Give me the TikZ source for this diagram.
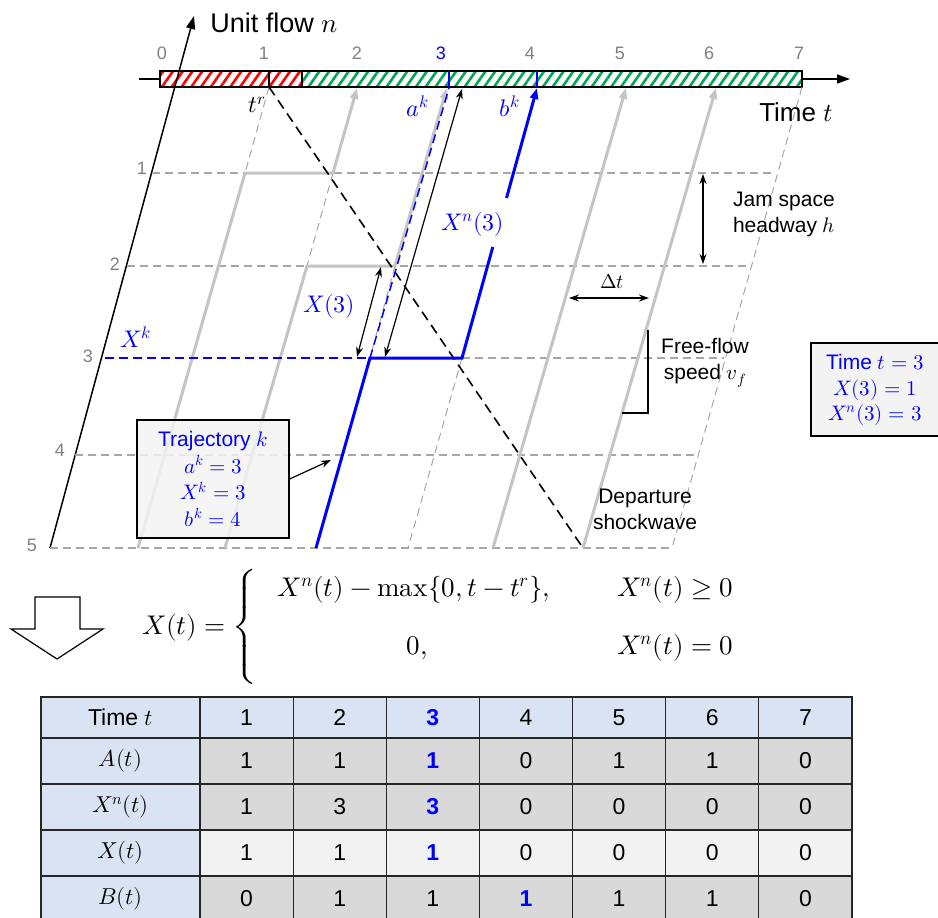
\documentclass[tikz,border=0pt]{standalone}
\usepackage{fontspec}
\usepackage{unicode-math}
\setmainfont{Liberation Sans}
\setmathfont{Latin Modern Math}
\usetikzlibrary{arrows.meta,patterns.meta}
\definecolor{tgray}{HTML}{C4C4C4}
\definecolor{ggray}{HTML}{A6A6A6}
\definecolor{lblue}{HTML}{DAE3F3}
\definecolor{cgray}{HTML}{D9D9D9}
\definecolor{cwhite}{HTML}{F2F2F2}
\definecolor{hgreen}{HTML}{00A651}
\definecolor{lblgray}{HTML}{808080}
\definecolor{boxgray}{HTML}{F3F3F3}
\newcommand{\fsz}[2]{\fontsize{#1}{#2}\selectfont}
\newcommand{\hlv}[1]{\textcolor{blue}{\bfseries #1}}
\begin{document}
\begin{tikzpicture}[x=1pt,y=-1pt,
 axisline/.style={line width=1.5pt,-{Triangle[length=13pt,width=9pt]}},
 gridline/.style={ggray,line width=1.1pt,dash pattern=on 8pt off 5pt},
 gridslant/.style={ggray,line width=1pt,dash pattern=on 8pt off 5pt},
 trajline/.style={tgray,line width=3pt},
 trajarrow/.style={trajline,-{Triangle[length=11pt,width=8pt]}},
 bluetraj/.style={blue,line width=3pt},
 bluearrow/.style={bluetraj,-{Triangle[length=11pt,width=8pt]}},
 bluedash/.style={blue,line width=1.5pt,dash pattern=on 9pt off 5pt},
 shock/.style={black,line width=1.6pt,dash pattern=on 10pt off 6pt},
 dimarrow/.style={black,line width=1.2pt,{Stealth[length=10pt,width=7pt]}-{Stealth[length=10pt,width=7pt]}},
 ticklbl/.style={text=lblgray,font=\fsz{18}{22},inner sep=0pt},
 annot/.style={font=\fsz{21}{26},align=center,inner sep=0pt},
 mlabel/.style={font=\fsz{24}{28},inner sep=0pt},
 fml/.style={font=\fsz{27}{31},inner sep=0pt},
 cell/.style={draw=black!85,line width=1.2pt,minimum width=93.14pt,minimum height=46pt,inner sep=0pt,font=\fsz{23}{27}},
]
\useasboundingbox (0,0) rectangle (938,918);

% ---------- time axis and bar ----------
\coordinate (tax0) at (139,79);
\coordinate (tax1) at (850,79);
\draw[axisline] (tax0) -- (tax1);
\fill[white] (160,71) rectangle (802,87);
\fill[pattern={Lines[angle=55,distance=8pt,line width=2.6pt]},pattern color=red] (160,71) rectangle (302,87);
\fill[pattern={Lines[angle=55,distance=8pt,line width=2.6pt]},pattern color=hgreen] (302,71) rectangle (802,87);
\draw[line width=1.5pt] (160,71) rectangle (802,87);
\draw[line width=1.3pt] (269,71) -- (269,87);
\draw[line width=1.3pt] (302,71) -- (302,87);
\draw[blue,line width=1.5pt] (449,71) -- (449,87);
\draw[blue,line width=1.5pt] (537,71) -- (537,87);

% tick labels
\node[ticklbl] (t0) at (162,53) {0};
\node[ticklbl] (t1) at (264,53) {1};
\node[ticklbl] (t2) at (357,53) {2};
\node[ticklbl,text=blue] (t3) at (441,53) {3};
\node[ticklbl] (t4) at (530,53) {4};
\node[ticklbl] (t5) at (620,53) {5};
\node[ticklbl] (t6) at (709,53) {6};
\node[ticklbl] (t7) at (799,53) {7};

% ---------- unit flow axis ----------
\coordinate (nax0) at (50,548);
\coordinate (nax1) at (194,16);
\draw[axisline] (nax0) -- (nax1);
\node[font=\fsz{27}{31},inner sep=0pt] (unitflow) at (274,23) {Unit flow $n$};
\node[font=\fsz{26}{30},inner sep=0pt] (timet) at (796,112) {Time $t$};

\node[ticklbl] (n1) at (142,168) {1};
\node[ticklbl] (n2) at (115,264) {2};
\node[ticklbl] (n3) at (88,356) {3};
\node[ticklbl] (n4) at (60,450) {4};
\node[ticklbl] (n5) at (32,545) {5};

% ---------- grid ----------
\draw[gridline] (152,173) -- (776,173);
\draw[gridline] (127,266) -- (750,266);
\draw[gridline] (462,358) -- (724,358);
\draw[gridline] (75,455) -- (697,455);
\draw[gridline] (50,548) -- (672,548);
\draw[gridslant] (269,87) -- (245,173);
\draw[gridslant] (333,173) -- (307,266);
\draw[gridslant] (395,266) -- (370,358);
\draw[gridslant] (462,358) -- (408,548);
\draw[gridslant] (802,87) -- (672,548);

% ---------- gray trajectories ----------
\draw[trajarrow] (138,548) -- (245,173) -- (333,173) -- (357,88);
\draw[trajarrow] (225,548) -- (307,266) -- (395,266) -- (447,88);
\draw[trajarrow] (493,548) -- (626,88);
\draw[trajarrow] (583,548) -- (716,88);

% ---------- shockwave ----------
\draw[shock] (269,87) -- (583,548);

% ---------- blue trajectory ----------
\draw[bluedash] (105,358) -- (370,358);
\draw[bluedash] (370,358) -- (449,88);
\draw[bluetraj] (316,548) -- (370,358) -- (462,358) -- (492.8,247);
\draw[bluearrow] (506.5,198) -- (537,88);

% ---------- labels ----------
\node[mlabel] (tr) at (257,105) {$t^{r}$};
\node[mlabel,text=blue] (ak) at (418,106) {$a^k$};
\node[mlabel,text=blue] (bk) at (510,106) {$b^k$};
\node[mlabel,text=blue] (Xk) at (136,337) {$X^k$};
\node[mlabel,text=blue] (X3) at (329,306) {$X(3)$};
\node[mlabel,text=blue] (Xn3) at (473,224) {$X^n(3)$};

% ---------- dimension arrows ----------
\coordinate (xnTop) at (462,89);
\coordinate (xnBot) at (385,357);
\draw[dimarrow] (xnTop) -- (xnBot);
\coordinate (x3Top) at (381,267);
\coordinate (x3Bot) at (357,357);
\draw[dimarrow] (x3Top) -- (x3Bot);
\coordinate (jamTop) at (703,174);
\coordinate (jamBot) at (703,264);
\draw[dimarrow] (jamTop) -- (jamBot);
\node[annot] (jam) at (784,214) {Jam space\\headway $h$};
\coordinate (dtL) at (569,298);
\coordinate (dtR) at (649,298);
\draw[dimarrow] (dtL) -- (dtR);
\node[font=\fsz{20}{22},inner sep=0pt] (dt) at (612,281) {$\Delta t$};
\coordinate (ff1) at (648,330);
\coordinate (ff2) at (648,413);
\coordinate (ff3) at (622,413);
\draw[line width=1.3pt] (ff1) -- (ff2) -- (ff3);
\node[annot] (ff) at (705,363) {Free-flow\\speed $v_f$};
\node[annot] (dep) at (645,509) {Departure\\shockwave};

% ---------- trajectory box ----------
\node[draw=black,line width=1.3pt,fill=boxgray,fill opacity=0.85,minimum width=152pt,minimum height=118pt,inner sep=0pt] (trajbox) at (213,479) {};
\node[font=\fsz{21}{26.5},text=blue,align=center,inner sep=0pt] (trajtxt) at (213,479) {Trajectory $k$\\$a^k = 3$\\$X^k = 3$\\$b^k = 4$};
\coordinate (trajtip) at (331,460);
\draw[line width=1.2pt,-{Stealth[length=10pt,width=7pt]}] (trajbox.east) -- (trajtip);

% ---------- info box ----------
\node[draw=black,line width=1.3pt,fill=boxgray,minimum width=134pt,minimum height=93pt,inner sep=0pt] (infobox) at (878,389.5) {};
\node[font=\fsz{21}{25.5},text=blue,align=center,inner sep=0pt] (infotxt) at (875,390) {Time $t = 3$\\$X(3) = 1$\\$X^n(3) = 3$};

% ---------- down arrow ----------
\draw[line width=1.2pt,fill=white] (35,597) -- (80,597) -- (80,629) -- (103,629) -- (57,659) -- (11,629) -- (35,629) -- cycle;

% ---------- formula ----------
\node[fml] (fX) at (184,628) {$X(t) =$};
\node[fml,anchor=west] (fbrace) at (232,628) {$\left\{\vrule height 53pt depth 53pt width 0pt\right.$};
\node[fml] (f11) at (414,590) {$X^n(t) - \mathop{\symup{max}}\{0, t - t^r\},$};
\node[fml,anchor=west] (f12) at (617,590) {$X^n(t) \geq 0$};
\node[fml] (f21) at (417,648) {$0,$};
\node[fml,anchor=west] (f22) at (617,648) {$X^n(t) = 0$};

% ---------- table ----------
\node[cell,fill=lblue,minimum width=159pt,minimum height=41pt] (h0) at (120.5,717.5) {Time $t$};
\foreach \v [count=\i] in {1,2,\hlv{3},4,5,6,7}
  \node[cell,fill=lblue,minimum height=41pt] (h\i) at ({200+93.14*(\i-0.5)},717.5) {\v};
\node[cell,fill=lblue,minimum width=159pt] (a0) at (120.5,761) {$A(t)$};
\foreach \v [count=\i] in {1,1,\hlv{1},0,1,1,0}
  \node[cell,fill=cgray] (a\i) at ({200+93.14*(\i-0.5)},761) {\v};
\node[cell,fill=lblue,minimum width=159pt] (x0) at (120.5,807) {$X^n(t)$};
\foreach \v [count=\i] in {1,3,\hlv{3},0,0,0,0}
  \node[cell,fill=cgray] (x\i) at ({200+93.14*(\i-0.5)},807) {\v};
\node[cell,fill=lblue,minimum width=159pt] (q0) at (120.5,853) {$X(t)$};
\foreach \v [count=\i] in {1,1,\hlv{1},0,0,0,0}
  \node[cell,fill=cwhite] (q\i) at ({200+93.14*(\i-0.5)},853) {\v};
\node[cell,fill=lblue,minimum width=159pt] (b0) at (120.5,899) {$B(t)$};
\foreach \v [count=\i] in {0,1,1,\hlv{1},1,1,0}
  \node[cell,fill=cgray] (b\i) at ({200+93.14*(\i-0.5)},899) {\v};
\end{tikzpicture}
\end{document}
